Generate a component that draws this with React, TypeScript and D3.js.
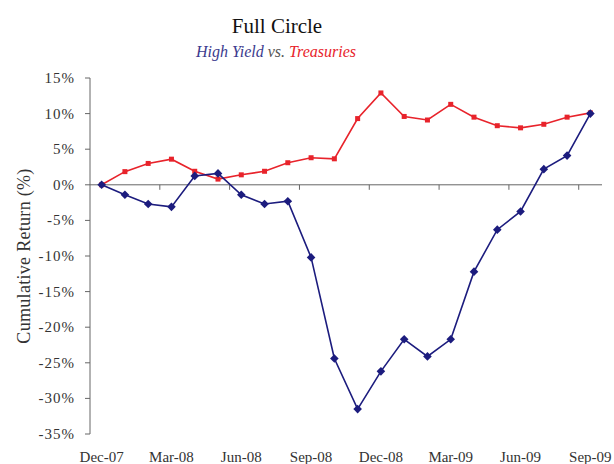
import React from "react";
import * as d3 from "d3";

const months = [
  "Dec-07","Jan-08","Feb-08","Mar-08","Apr-08","May-08","Jun-08","Jul-08","Aug-08","Sep-08","Oct-08","Nov-08",
  "Dec-08","Jan-09","Feb-09","Mar-09","Apr-09","May-09","Jun-09","Jul-09","Aug-09","Sep-09",
];
const highYield = [0, -1.4, -2.7, -3.1, 1.25, 1.6, -1.4, -2.7, -2.3, -10.2, -24.4, -31.5, -26.2, -21.7, -24.1, -21.7, -12.2, -6.3, -3.75, 2.2, 4.1, 10.0];
const treasuries = [0, 1.85, 3.0, 3.6, 1.9, 0.8, 1.4, 1.9, 3.1, 3.8, 3.65, 9.3, 12.9, 9.6, 9.1, 11.3, 9.5, 8.3, 8.0, 8.5, 9.5, 10.1];
const yTicks = [15, 10, 5, 0, -5, -10, -15, -20, -25, -30, -35];
const xLabelMonths = ["Dec-07", "Mar-08", "Jun-08", "Sep-08", "Dec-08", "Mar-09", "Jun-09", "Sep-09"];

const W = 614, H = 464;
const BLUE = "#1c1c7e";
const RED = "#e8232b";
const FONT = "'Liberation Serif', 'Times New Roman', serif";

export default function App() {
  const x = d3.scaleBand<string>().domain(months).range([90, 602]).paddingInner(0).paddingOuter(0);
  const y = d3.scaleLinear().domain([-35, 15]).range([434, 78]);
  const cx = (m: string) => (x(m) as number) + x.bandwidth() / 2;
  const line = d3.line<number>().x((_, i) => cx(months[i])).y((v) => y(v));
  const tickIdx = months.map((_, i) => i).filter((i) => i % 3 === 0 && i > 0);
  const r = 4.3;
  const diamond = `M0,${-r}L${r},0L0,${r}L${-r},0Z`;

  return (
    <svg width={W} height={H} style={{ position: "absolute", left: 0, top: 0, background: "#fff" }}>
      <text x={277} y={33} textAnchor="middle" fontFamily={FONT} fontSize={21} fill="#111">Full Circle</text>
      <text x={276} y={57} textAnchor="middle" fontFamily={FONT} fontSize={16} fontStyle="italic">
        <tspan fill="#3b3b8e">High Yield</tspan>
        <tspan fill="#555"> vs. </tspan>
        <tspan fill={RED}> Treasuries</tspan>
      </text>
      <text
        transform={`translate(30,256) rotate(-90)`}
        textAnchor="middle"
        fontFamily={FONT}
        fontSize={18}
        letterSpacing={0.3}
        fill="#333"
      >
        Cumulative Return (%)
      </text>

      <line x1={90} x2={90} y1={y(15)} y2={y(-35)} stroke="#666" strokeWidth={1} />
      {yTicks.map((t) => (
        <g key={t}>
          <line x1={85} x2={90} y1={y(t)} y2={y(t)} stroke="#666" />
          <text x={75} y={y(t) + 5} textAnchor="end" fontFamily={FONT} fontSize={15} letterSpacing={1} fill="#333">
            {t}%
          </text>
        </g>
      ))}

      <line x1={90} x2={602} y1={y(0)} y2={y(0)} stroke="#666" strokeWidth={1} />
      {tickIdx.map((i) => (
        <line key={i} x1={x(months[i]) as number} x2={x(months[i]) as number} y1={y(0)} y2={y(0) + 5} stroke="#666" />
      ))}
      {xLabelMonths.map((m) => (
        <text key={m} x={cx(m)} y={462} textAnchor="middle" fontFamily={FONT} fontSize={15} fill="#333">
          {m}
        </text>
      ))}

      <path d={line(treasuries) as string} fill="none" stroke={RED} strokeWidth={1.6} />
      {treasuries.map((v, i) => (
        <rect key={i} x={cx(months[i]) - 2.5} y={y(v) - 2.5} width={5} height={5} fill={RED} />
      ))}
      <path d={line(highYield) as string} fill="none" stroke={BLUE} strokeWidth={1.6} />
      {highYield.map((v, i) => (
        <path key={i} d={diamond} transform={`translate(${cx(months[i])},${y(v)})`} fill={BLUE} />
      ))}
    </svg>
  );
}
